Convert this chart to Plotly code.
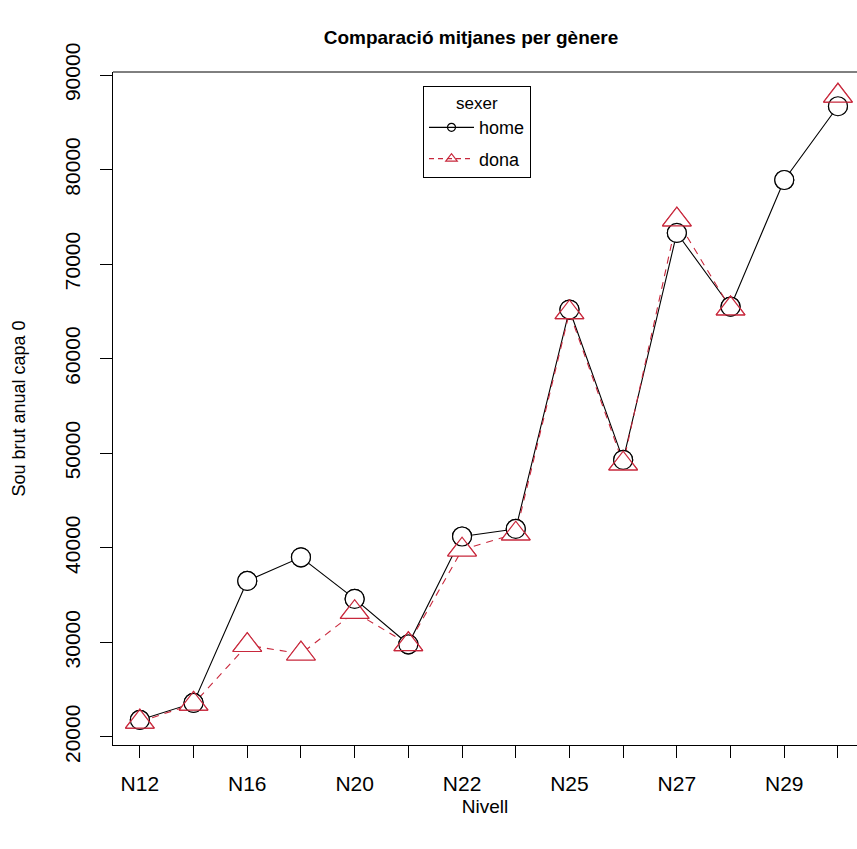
import plotly.graph_objects as go

# ---- data ----
levels = ["N12", "N14", "N16", "N18", "N20", "N21", "N22",
          "N24", "N25", "N26", "N27", "N28", "N29", "N30"]
tick_labels = ["N12", "", "N16", "", "N20", "", "N22",
               "", "N25", "", "N27", "", "N29", ""]
home = [21800, 23600, 36500, 39000, 34600, 29800, 41200,
        42000, 65200, 49300, 73300, 65500, 78900, 86700]
dona = [21600, 23500, 29700, 28800, 33200, 29800, 39800,
        41500, 64900, 48900, 74700, 65300, None, 87800]
y_ticks = [20000, 30000, 40000, 50000, 60000, 70000, 80000, 90000]
series_names = ["home", "dona"]
legend_title = "sexer"

RED = "#C8283C"
FONT = "Liberation Sans, Arial, sans-serif"
CIRC = 19
TRI = 25
DASH = "7px,6px"

W, H = 857, 849
L, T, B = 113, 72, 104

fig = go.Figure()
# data lines
fig.add_trace(go.Scatter(x=levels, y=home, mode="lines+markers", showlegend=False,
                         line=dict(color="black", width=1.1),
                         marker=dict(symbol="circle-open", size=CIRC, color="black",
                                     line=dict(width=1.2, color="black"))))
fig.add_trace(go.Scatter(x=levels, y=dona, mode="lines+markers", showlegend=False,
                         line=dict(color=RED, width=1.1, dash=DASH),
                         marker=dict(symbol="triangle-up-open", size=TRI, color=RED,
                                     line=dict(width=1.2, color=RED))))
# white covers so that lines stop at the points (like R type="b")
fig.add_trace(go.Scatter(x=levels, y=dona, mode="markers", showlegend=False,
                         hoverinfo="skip",
                         marker=dict(symbol="triangle-up", size=TRI, color="white",
                                     line=dict(width=0))))
fig.add_trace(go.Scatter(x=levels, y=home, mode="markers", showlegend=False,
                         hoverinfo="skip",
                         marker=dict(symbol="circle", size=CIRC, color="white",
                                     line=dict(width=1.2, color="black"))))
fig.add_trace(go.Scatter(x=levels, y=dona, mode="markers", showlegend=False,
                         hoverinfo="skip",
                         marker=dict(symbol="triangle-up-open", size=TRI, color=RED,
                                     line=dict(width=1.2, color=RED))))
# legend entries (small symbols, thin lines)
fig.add_trace(go.Scatter(x=[None], y=[None], name=series_names[0], mode="lines+markers",
                         legendgroup="g1",
                         line=dict(color="black", width=1.2),
                         marker=dict(symbol="circle-open", size=8, color="black",
                                     line=dict(width=1.2, color="black"))))
fig.add_trace(go.Scatter(x=[None], y=[None], name=series_names[1], mode="lines+markers",
                         legendgroup="g2",
                         line=dict(color=RED, width=1.2, dash="5px,4px"),
                         marker=dict(symbol="triangle-up-open", size=10, color=RED,
                                     line=dict(width=1.2, color=RED))))

fig.update_layout(
    width=W, height=H,
    paper_bgcolor="white", plot_bgcolor="white",
    margin=dict(l=L, r=0, t=T, b=B, autoexpand=False),
    font=dict(family=FONT, size=21, color="black"),
    title=dict(text="<b>Comparació mitjanes per gènere</b>",
               x=471 / W, xanchor="center", xref="container",
               y=1 - 37 / H, yanchor="middle", yref="container",
               automargin=False,
               font=dict(size=19, family=FONT, color="black")),
    xaxis=dict(type="category", categoryorder="array", categoryarray=levels,
               range=[-0.5, -0.5 + (W - L) / 53.7], automargin=False,
               tickmode="array", tickvals=levels, ticktext=tick_labels,
               ticks="outside", ticklen=12, tickwidth=1, tickcolor="black",
               showline=True, linecolor="black", linewidth=1, mirror=False,
               showgrid=False, zeroline=False,
               ticklabelstandoff=8,
               title=dict(text="Nivell", standoff=5, font=dict(size=19))),
    yaxis=dict(range=[19150, 90320], automargin=False,
               tickmode="array", tickvals=y_ticks,
               ticktext=[str(v) for v in y_ticks],
               tickangle=-90, mirror=False,
               ticks="outside", ticklen=12, tickwidth=1, tickcolor="black",
               showline=True, linecolor="black", linewidth=1,
               showgrid=False, zeroline=False,
               ticklabelstandoff=12,
               title=dict(text="Sou brut anual capa 0", standoff=30, font=dict(size=18))),
    shapes=[dict(type="line", xref="paper", yref="paper", x0=0, x1=1, y0=1, y1=1,
                 line=dict(color="black", width=1))],
    legend=dict(x=(423 - L) / (W - L), y=(H - B - 86) / (H - B - T),
                xanchor="left", yanchor="top",
                bordercolor="black", borderwidth=1, bgcolor="white",
                font=dict(size=18, family=FONT),
                title=dict(text=legend_title, side="top center", font=dict(size=17)),
                itemsizing="trace", itemwidth=45, tracegroupgap=5),
    showlegend=True,
)

fig.write_html("out.html",
               config={"displayModeBar": False},
               post_script="document.body.style.margin='0px';"
                           "document.body.style.overflow='hidden';"
                           "document.documentElement.style.overflow='hidden';")
